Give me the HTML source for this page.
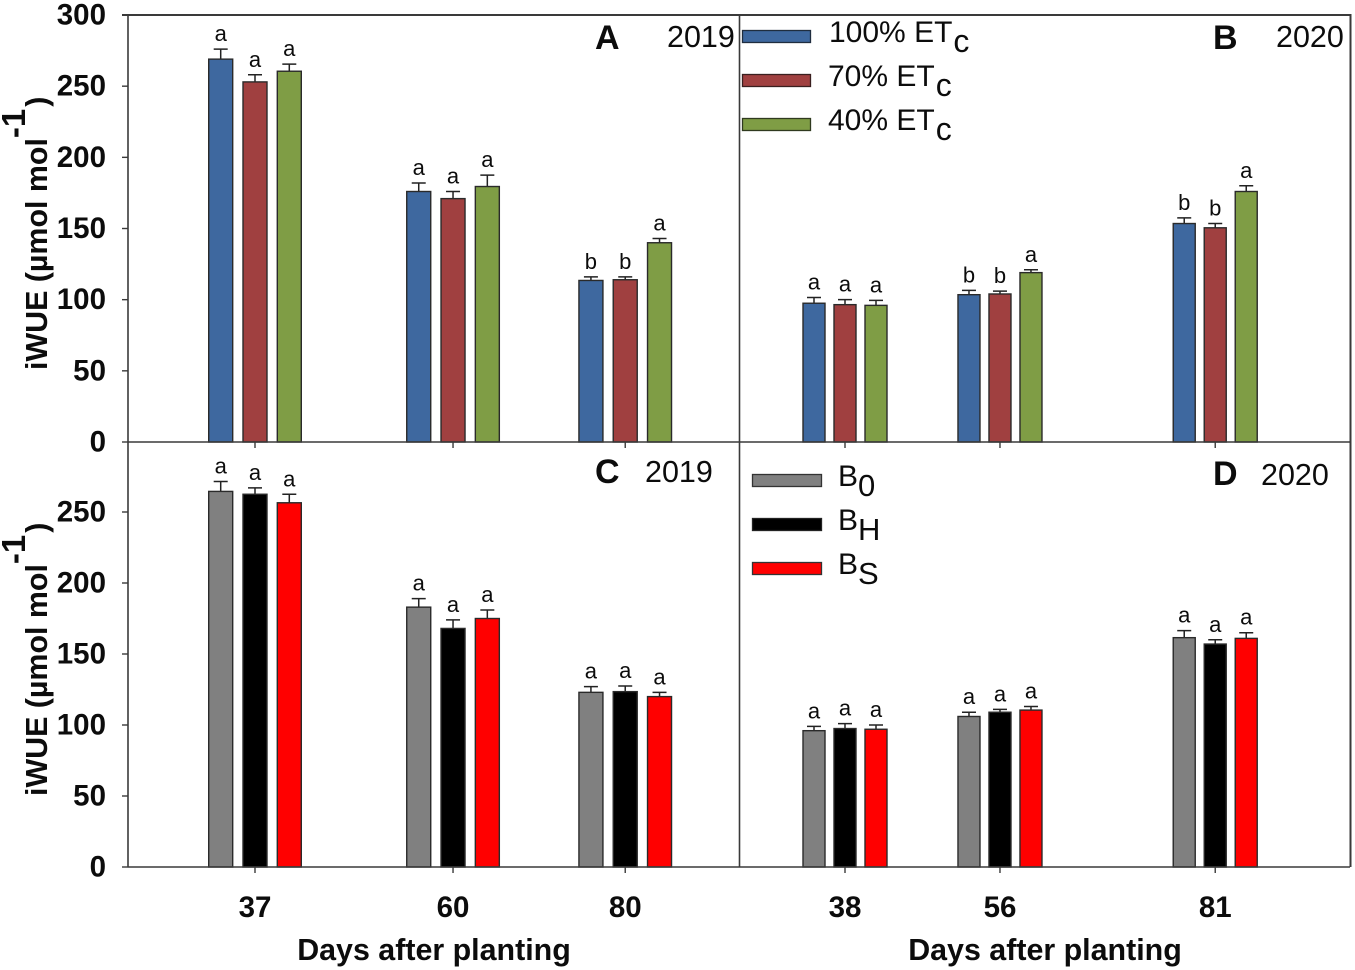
<!DOCTYPE html>
<html>
<head>
<meta charset="utf-8">
<style>
html,body{margin:0;padding:0;background:#fff;}
svg{display:block;}
text{font-family:"Liberation Sans",Arial,sans-serif;fill:#0c0c0c;}
.tick{font-size:29.5px;font-weight:bold;}
.ttl{font-size:30.4px;font-weight:bold;}
.let{font-size:22px;}
.pan{font-size:34px;font-weight:bold;}
.yr{font-size:30.5px;}
.leg{font-size:30px;}
</style>
</head>
<body>
<svg id="chart" xmlns="http://www.w3.org/2000/svg" width="1355" height="970" viewBox="0 0 1355 970">
  <g id="marks"></g>
  <g id="axes"></g>

  <text class="ttl" transform="translate(47,370) rotate(-90)">iWUE (µmol mol<tspan dy="-22" font-size="33">-1</tspan><tspan dy="22" dx="2">)</tspan></text>
  <text class="ttl" transform="translate(47,796) rotate(-90)">iWUE (µmol mol<tspan dy="-22" font-size="33">-1</tspan><tspan dy="22" dx="2">)</tspan></text>
  <text class="ttl" x="434" y="960" text-anchor="middle">Days after planting</text>
  <text class="ttl" x="1045" y="960" text-anchor="middle">Days after planting</text>

  <text class="pan" x="595" y="49">A</text>
  <text class="yr" x="667" y="47">2019</text>
  <text class="pan" x="1213" y="49">B</text>
  <text class="yr" x="1276" y="47">2020</text>
  <text class="pan" x="595" y="483">C</text>
  <text class="yr" x="645" y="482">2019</text>
  <text class="pan" x="1213" y="485">D</text>
  <text class="yr" x="1261" y="485">2020</text>

  <g>
    <g>
      <rect x="742.5" y="30.5" width="68" height="12" fill="#3e689f" stroke="#1f2d3f" stroke-width="1.3"/>
      <text class="leg" x="829" y="42">100% ET<tspan dy="10" dx="1" font-size="32">c</tspan></text>
    </g>
    <g>
      <rect x="742.5" y="74.5" width="68" height="12" fill="#a04040" stroke="#3a1f1f" stroke-width="1.3"/>
      <text class="leg" x="828" y="86">70% ET<tspan dy="10" dx="1" font-size="32">c</tspan></text>
    </g>
    <g>
      <rect x="742.5" y="118.5" width="68" height="12" fill="#7f9d45" stroke="#2f3a1f" stroke-width="1.3"/>
      <text class="leg" x="828" y="130">40% ET<tspan dy="10" dx="1" font-size="32">c</tspan></text>
    </g>
  </g>
  <g>
    <g>
      <rect x="752.5" y="474.5" width="69" height="12" fill="#808080" stroke="#333" stroke-width="1.3"/>
      <text class="leg" x="838" y="486">B<tspan dy="10" font-size="31">0</tspan></text>
    </g>
    <g>
      <rect x="752.5" y="518.5" width="69" height="12" fill="#000" stroke="#222" stroke-width="1.3"/>
      <text class="leg" x="838" y="530">B<tspan dy="10" font-size="31">H</tspan></text>
    </g>
    <g>
      <rect x="752.5" y="562.5" width="69" height="12" fill="#ff0000" stroke="#333" stroke-width="1.3"/>
      <text class="leg" x="838" y="574">B<tspan dy="10" font-size="31">S</tspan></text>
    </g>
  </g>
</svg>
<script>
// Chart data
var daysA = [37, 60, 80];
var daysB = [38, 56, 81];
var topTicks = [0, 50, 100, 150, 200, 250, 300];
var bottomTicks = [0, 50, 100, 150, 200, 250];

var valuesA = [[269, 253, 260.5], [176, 171, 179.5], [113.5, 114, 140]];
var errorsA = [[7, 5, 5], [6, 5, 8], [2.5, 2, 3]];
var lettersA = [['a', 'a', 'a'], ['a', 'a', 'a'], ['b', 'b', 'a']];

var valuesB = [[97.5, 96.5, 96], [103.5, 104, 119], [153.5, 150.5, 176]];
var errorsB = [[4, 3.5, 3.5], [3, 2, 2], [4, 3, 4]];
var lettersB = [['a', 'a', 'a'], ['b', 'b', 'a'], ['b', 'b', 'a']];

var valuesC = [[264.5, 262.5, 256.5], [183, 168, 175], [123, 123.5, 120]];
var errorsC = [[7, 4.5, 6], [6, 6, 6], [4, 4, 3]];
var lettersC = [['a', 'a', 'a'], ['a', 'a', 'a'], ['a', 'a', 'a']];

var valuesD = [[96, 97.5, 97], [106, 109, 110.5], [161.5, 157, 161]];
var errorsD = [[3, 3.5, 3], [3, 2, 2.5], [5, 3, 4]];
var lettersD = [['a', 'a', 'a'], ['a', 'a', 'a'], ['a', 'a', 'a']];

var irrigationColors = ['#3e689f', '#a04040', '#7f9d45'];
var biocharColors = ['#808080', '#000000', '#ff0000'];

var NS = 'http://www.w3.org/2000/svg';
var marks = document.getElementById('marks');
var axes = document.getElementById('axes');
var AXIS = '#3a3a3a';

function xLeft(d) { return 255 + (d - 37) * 8.61; }
function xRight(d) { return 845 + (d - 38) * 8.61; }
function yTop(v) { return 442 - v * 1.4233; }
function yBottom(v) { return 867 - v * 1.42; }

function make(tag, attrs, parent) {
  var el = document.createElementNS(NS, tag);
  for (var k in attrs) { el.setAttribute(k, attrs[k]); }
  parent.appendChild(el);
  return el;
}

function drawPanel(panelName, days, values, errors, letters, colors, xFn, yFn, offset, barW) {
  days.forEach(function (day, g) {
    values[g].forEach(function (val, s) {
      var cx = xFn(day) + (s - 1) * offset;
      var y0 = yFn(0);
      var yv = yFn(val);
      var yErr = yFn(val + errors[g][s]);

      var stem = make('path', { d: 'M' + cx + ' ' + yv + 'V' + yErr + 'M' + (cx - 7) + ' ' + yErr + 'H' + (cx + 7), stroke: '#222', 'stroke-width': 1.5, fill: 'none' }, marks);
      
      

      var bar = make('rect', { x: cx - barW / 2, y: yv, width: barW, height: y0 - yv, fill: colors[s], stroke: '#2a2a2a', 'stroke-width': 1.4 }, marks);
      
      

      var t = make('text', { x: cx, y: yErr - 8, 'text-anchor': 'middle', 'class': 'let' }, marks);
      t.textContent = letters[g][s];
      
      
    });
  });
}

function drawLine(d, name, width) {
  var p = make('path', { d: d, stroke: AXIS, 'stroke-width': width, fill: 'none' }, axes);
  
  
}

function drawYTicks(ticks, yFn, name) {
  ticks.forEach(function (v) {
    var y = yFn(v);
    drawLine('M122 ' + y + 'H128', name + '-tick', 1.4);
    var t = make('text', { x: 106, y: y + 9.5, 'text-anchor': 'end', 'class': 'tick' }, axes);
    t.textContent = v;
    
    
  });
}

function drawXTicks(days, xFn) {
  days.forEach(function (d) {
    var x = xFn(d);
    drawLine('M' + x + ' 442V448', 'x-tick-top', 1.4);
    drawLine('M' + x + ' 867V873', 'x-tick-bottom', 1.4);
    var t = make('text', { x: x, y: 917, 'text-anchor': 'middle', 'class': 'tick' }, axes);
    t.textContent = d;
    
    
  });
}

drawPanel('a', daysA, valuesA, errorsA, lettersA, irrigationColors, xLeft, yTop, 34.3, 24);
drawPanel('b', daysB, valuesB, errorsB, lettersB, irrigationColors, xRight, yTop, 31, 22);
drawPanel('c', daysA, valuesC, errorsC, lettersC, biocharColors, xLeft, yBottom, 34.3, 24);
drawPanel('d', daysB, valuesD, errorsD, lettersD, biocharColors, xRight, yBottom, 31, 22);

drawLine('M122 15H1350.5V867', 'top-right-frame', 2);
drawLine('M128 15V867', 'left-axis-line', 1.6);
drawLine('M739.5 15V867', 'panel-divider-vertical', 1.6);
drawLine('M128 442H1350', 'panel-divider-horizontal', 1.6);
drawLine('M128 867H1350', 'bottom-axis-line', 1.6);

drawYTicks(topTicks, yTop, 'y-top');
drawYTicks(bottomTicks, yBottom, 'y-bottom');
drawXTicks(daysA, xLeft);
drawXTicks(daysB, xRight);
</script>
</body>
</html>
